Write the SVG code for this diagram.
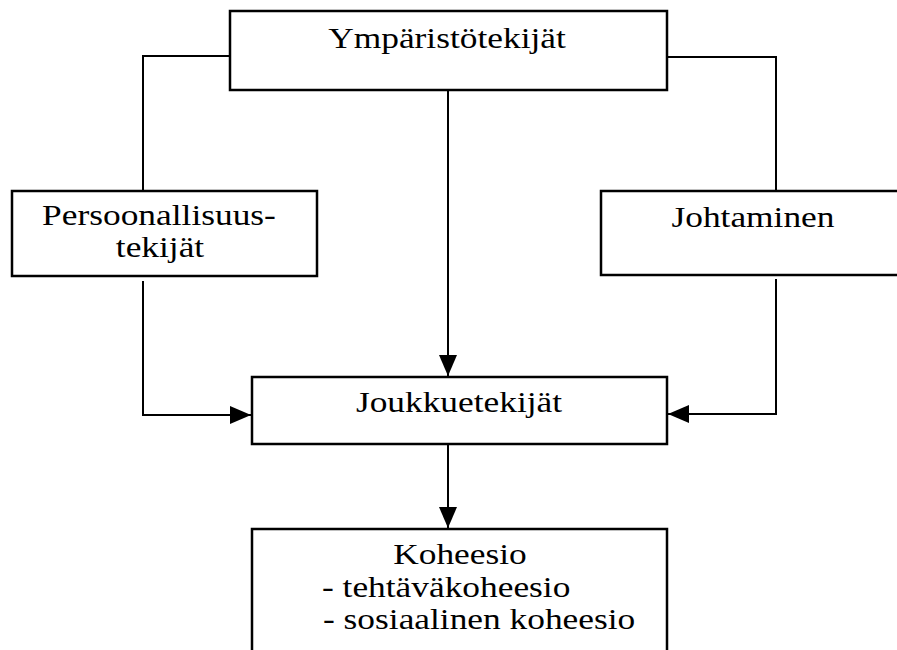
<svg xmlns="http://www.w3.org/2000/svg" width="897" height="650" viewBox="0 0 897 650">
<style>
.box{fill:#fff;stroke:#000;stroke-width:2.5}
.c{fill:none;stroke:#000;stroke-width:2}
.t{font-family:'Liberation Serif','Times New Roman',serif;font-size:29px;fill:#000;text-anchor:middle}
</style>
<defs>
<marker id="ah" markerUnits="userSpaceOnUse" markerWidth="22" markerHeight="20" refX="21" refY="9" orient="auto">
<path d="M0,0 L21,9 L0,18 z" fill="#000"/>
</marker>
</defs>
<rect width="897" height="650" fill="#fff"/>
<g id="connectors">
<polyline class="c" points="230,56 143,56 143,191"/>
<polyline class="c" points="143,281 143,415 251,415" marker-end="url(#ah)"/>
<polyline class="c" points="667,57 776,57 776,191"/>
<polyline class="c" points="776,279 776,414 668,414" marker-end="url(#ah)"/>
<line class="c" x1="448" y1="90" x2="448" y2="376" marker-end="url(#ah)"/>
<line class="c" x1="448" y1="444" x2="448" y2="528" marker-end="url(#ah)"/>
</g>
<g id="ymparisto">
<rect class="box" x="230" y="11" width="437" height="79"/>
<text class="t" x="447" y="48" transform="translate(447 0) scale(1.22 1) translate(-447 0)">Ympäristötekijät</text>
</g>
<g id="persoonallisuus">
<rect class="box" x="12" y="191" width="305" height="85"/>
<text class="t" x="159" y="225" transform="translate(159 0) scale(1.22 1) translate(-159 0)">Persoonallisuus-</text>
<text class="t" x="160" y="257" transform="translate(160 0) scale(1.22 1) translate(-160 0)">tekijät</text>
</g>
<g id="johtaminen">
<rect class="box" x="601" y="191" width="310" height="84"/>
<text class="t" x="753" y="227" transform="translate(753 0) scale(1.22 1) translate(-753 0)">Johtaminen</text>
</g>
<g id="joukkue">
<rect class="box" x="252" y="377" width="415" height="67"/>
<text class="t" x="459" y="412" transform="translate(459 0) scale(1.22 1) translate(-459 0)">Joukkuetekijät</text>
</g>
<g id="koheesio">
<rect class="box" x="252" y="529" width="415" height="140"/>
<text class="t" x="460" y="564" transform="translate(460 0) scale(1.22 1) translate(-460 0)">Koheesio</text>
<text x="322" y="597" class="t" style="text-anchor:start" transform="translate(322 0) scale(1.22 1) translate(-322 0)">- tehtäväkoheesio</text>
<text x="323" y="629" class="t" style="text-anchor:start" transform="translate(323 0) scale(1.22 1) translate(-323 0)">- sosiaalinen koheesio</text>
</g>
</svg>
